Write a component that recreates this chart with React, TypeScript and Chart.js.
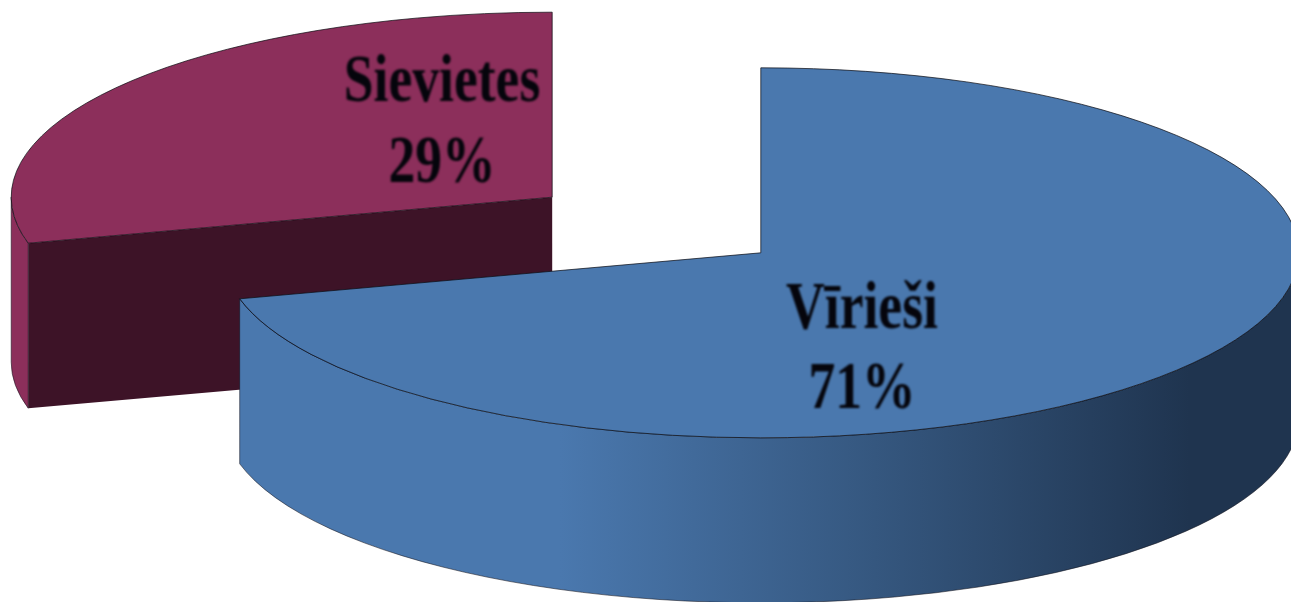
import React, { useEffect, useRef } from "react";
import { Chart, registerables } from "chart.js";

Chart.register(...registerables);

const categories = ["Vīrieši", "Sievietes"];
const shares = [71, 29];
const topColors = ["#4a78ae", "#8c2f5b"];

const RADII_X = [538, 541];
const RY = 185;
const DEPTH = 165;
const BASE_X = 656.5;
const BASE_Y = 225;
const EXPLODE_X = 132;
const EXPLODE_Y = 132 * (RY / 538);
const TEXT_POS = [
  { x: 862, y1: 328, y2: 408 },
  { x: 442, y1: 101, y2: 182 },
];

const pie3d = {
  id: "pie3d",
  beforeDatasetsDraw(chart: any) {
    const ctx: CanvasRenderingContext2D = chart.ctx;
    const arcs = chart.getDatasetMeta(0).data as any[];
    const centres = arcs.map((arc) => {
      const mid = (arc.startAngle + arc.endAngle) / 2;
      return { cx: BASE_X + Math.cos(mid) * EXPLODE_X, cy: BASE_Y + Math.sin(mid) * EXPLODE_Y };
    });
    // back slice first
    [1, 0].forEach((i) => {
      const arc = arcs[i];
      const { cx, cy } = centres[i];
      const RX = RADII_X[i];
      const a0 = arc.startAngle;
      const a1 = arc.endAngle;

      // cut face of the slice that looks at the viewer
      if (i === 1) {
        const ex = cx + RX * Math.cos(a0);
        const ey = cy + RY * Math.sin(a0);
        ctx.beginPath();
        ctx.moveTo(cx, cy);
        ctx.lineTo(ex, ey);
        ctx.lineTo(ex, ey + DEPTH);
        ctx.lineTo(cx, cy + DEPTH);
        ctx.closePath();
        ctx.fillStyle = "#3d1327";
        ctx.fill();
      }

      // outer wall, front half only
      const from = Math.max(a0, 0);
      const to = Math.min(a1, Math.PI);
      if (to > from) {
        ctx.beginPath();
        ctx.ellipse(cx, cy, RX, RY, 0, from, to);
        ctx.ellipse(cx, cy + DEPTH, RX, RY, 0, to, from, true);
        ctx.closePath();
        if (i === 0) {
          const g = ctx.createLinearGradient(560, 0, 1190, 0);
          g.addColorStop(0, "#4a78ae");
          g.addColorStop(0.5, "#35577f");
          g.addColorStop(1, "#1f344f");
          ctx.fillStyle = g;
        } else {
          ctx.fillStyle = topColors[1];
        }
        ctx.fill();
        ctx.strokeStyle = "rgba(20,20,30,0.55)";
        ctx.lineWidth = 1;
        ctx.stroke();
      }

      // top face: the library's own arc element
      ctx.save();
      ctx.translate(cx, cy);
      ctx.scale(RX / arc.outerRadius, RY / arc.outerRadius);
      ctx.translate(-arc.x, -arc.y);
      arc.draw(ctx);
      ctx.restore();

      ctx.beginPath();
      ctx.moveTo(cx, cy);
      ctx.ellipse(cx, cy, RX, RY, 0, a0, a1);
      ctx.closePath();
      ctx.strokeStyle = "rgba(10,10,15,0.7)";
      ctx.lineWidth = 1;
      ctx.stroke();
    });

    // labels
    const values = chart.data.datasets[0].data as number[];
    const total = values.reduce((s, v) => s + v, 0);
    ctx.save();
    ctx.fillStyle = "#05050c";
    ctx.textAlign = "center";
    ctx.textBaseline = "alphabetic";
    ctx.font = 'bold 67px "Liberation Serif"';
    (ctx as any).filter = "blur(0.9px)";
    arcs.forEach((_, i) => {
      const p = TEXT_POS[i];
      const lines = [
        [String(chart.data.labels[i]), p.y1],
        [Math.round((values[i] / total) * 100) + "%", p.y2],
      ] as [string, number][];
      lines.forEach(([t, y]) => {
        ctx.save();
        ctx.translate(p.x, y);
        ctx.scale(0.8, 1);
        ctx.fillText(t, 0, 0);
        ctx.restore();
      });
    });
    ctx.restore();
    return false;
  },
};

export default function App() {
  const ref = useRef<HTMLCanvasElement>(null);
  useEffect(() => {
    const chart = new Chart(ref.current as HTMLCanvasElement, {
      type: "pie",
      data: {
        labels: categories,
        datasets: [{ data: shares, backgroundColor: topColors, borderWidth: 0 }],
      },
      options: {
        animation: false,
        responsive: false,
        layout: { padding: 0 },
        plugins: { legend: { display: false }, tooltip: { enabled: false } },
      },
      plugins: [pie3d],
    } as any);
    return () => chart.destroy();
  }, []);
  return (
    <div style={{ position: "fixed", left: 0, top: 0, width: 1291, height: 602, background: "#fff", overflow: "hidden" }}>
      <canvas ref={ref} width={1291} height={602} style={{ display: "block" }} />
    </div>
  );
}
